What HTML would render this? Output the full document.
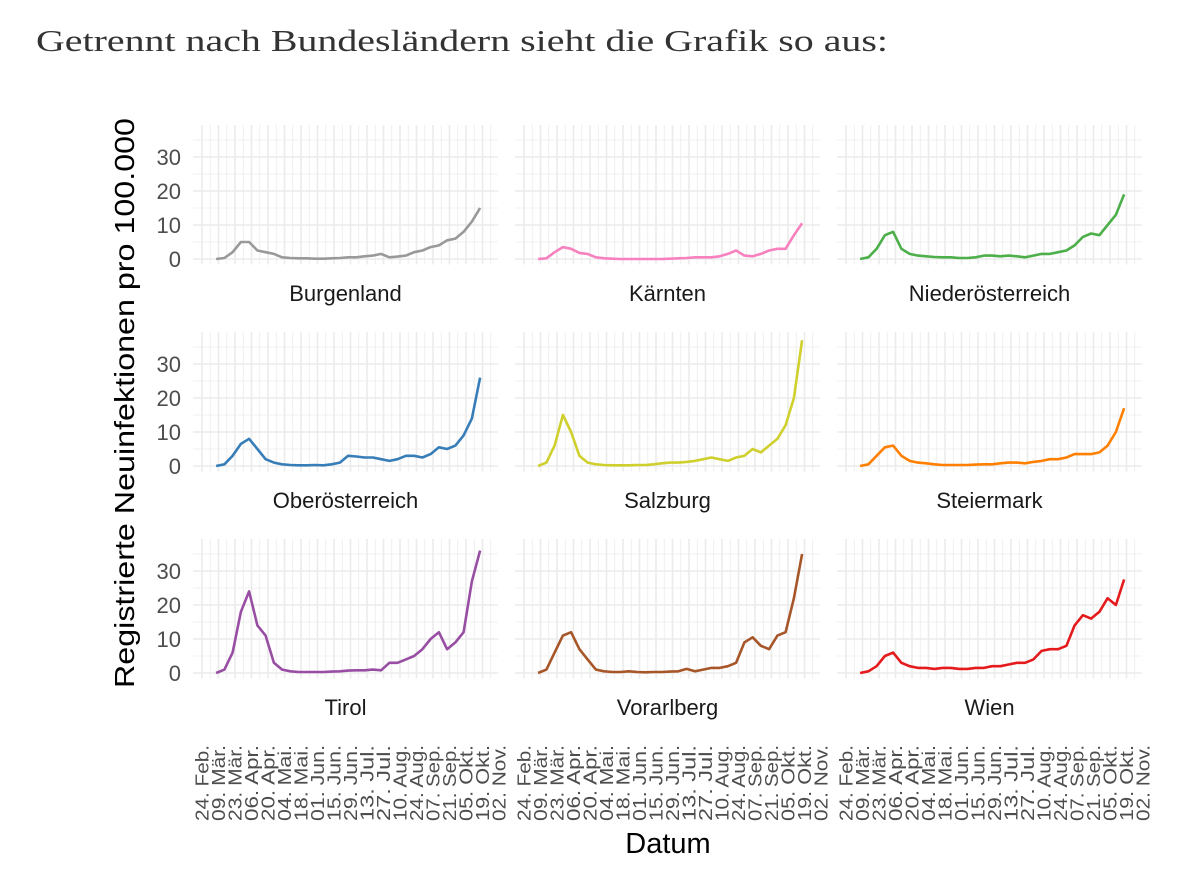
<!DOCTYPE html>
<html><head><meta charset="utf-8"><style>
html,body{margin:0;padding:0;background:#fff;}
svg{display:block;font-family:"Liberation Sans",sans-serif;}
</style></head><body>
<svg id="chart" width="1200" height="877" viewBox="0 0 1200 877" xmlns="http://www.w3.org/2000/svg">
<text x="36" y="51" font-family="Liberation Serif, serif" font-size="31" fill="#333" textLength="852" lengthAdjust="spacingAndGlyphs">Getrennt nach Bundesländern sieht die Grafik so aus:</text>
<text transform="translate(134,403) rotate(-90)" text-anchor="middle" font-size="28" fill="#000" textLength="570" lengthAdjust="spacingAndGlyphs">Registrierte Neuinfektionen pro 100.000</text>
<text x="668" y="853" text-anchor="middle" font-size="29" fill="#000">Datum</text>
<g id="panels"></g>
</svg>
<script>
const states = ["Burgenland","Kärnten","Niederösterreich","Oberösterreich","Salzburg","Steiermark","Tirol","Vorarlberg","Wien"];
const colors = ["#999999","#f781bf","#4daf4a","#377eb8","#cfcf2e","#ff7f00","#984ea3","#a65628","#e41a1c"];
const dayStart = 12; const dayStep = 7;
const burgenland = [0,0.3,2,5,5,2.5,2,1.5,0.5,0.3,0.2,0.2,0.1,0.1,0.2,0.3,0.5,0.5,0.8,1,1.5,0.5,0.7,1,2,2.5,3.5,4,5.5,6,8,11,15];
const kaernten = [0,0.2,2,3.5,3,1.8,1.5,0.5,0.2,0.1,0,0,0,0,0,0,0.1,0.2,0.3,0.5,0.5,0.5,0.8,1.5,2.5,1,0.8,1.5,2.5,3,3,7,10.5];
const niederoesterreich = [0,0.5,3,7,8,3,1.5,1,0.8,0.6,0.5,0.5,0.3,0.3,0.5,1,1,0.8,1,0.8,0.5,1,1.5,1.5,2,2.5,4,6.5,7.5,7,10,13,19];
const oberoesterreich = [0,0.5,3,6.5,8,5,2,1,0.5,0.3,0.2,0.2,0.3,0.2,0.5,1,3,2.8,2.5,2.5,2,1.5,2,3,3,2.5,3.5,5.5,5,6,9,14,26];
const salzburg = [0,1,6,15,10,3,1,0.5,0.3,0.2,0.2,0.2,0.3,0.3,0.5,0.8,1,1,1.2,1.5,2,2.5,2,1.5,2.5,3,5,4,6,8,12,20,37];
const steiermark = [0,0.5,3,5.5,6,3,1.5,1,0.8,0.5,0.3,0.3,0.3,0.3,0.4,0.5,0.5,0.8,1,1,0.8,1.2,1.5,2,2,2.5,3.5,3.5,3.5,4,6,10,17];
const tirol = [0,1,6,18,24,14,11,3,1,0.5,0.3,0.3,0.3,0.3,0.4,0.5,0.7,0.8,0.8,1,0.8,3,3,4,5,7,10,12,7,9,12,27,36];
const vorarlberg = [0,1,6,11,12,7,4,1,0.5,0.3,0.3,0.5,0.3,0.2,0.3,0.3,0.4,0.5,1.2,0.5,1,1.5,1.5,2,3,9,10.5,8,7,11,12,22,35];
const wien = [0,0.5,2,5,6,3,2,1.5,1.5,1.2,1.5,1.5,1.2,1.2,1.5,1.5,2,2,2.5,3,3,4,6.5,7,7,8,14,17,16,18,22,20,27.5];
const yTicks = [0,10,20,30];
const xTickLabels = ["24. Feb.","09. Mär.","23. Mär.","06. Apr.","20. Apr.","04. Mai.","18. Mai.","01. Jun.","15. Jun.","29. Jun.","13. Jul.","27. Jul.","10. Aug.","24. Aug.","07. Sep.","21. Sep.","05. Okt.","19. Okt.","02. Nov."];
const series = [burgenland,kaernten,niederoesterreich,oberoesterreich,salzburg,steiermark,tirol,vorarlberg,wien];

const NS="http://www.w3.org/2000/svg";
const root=document.getElementById('panels');
function mk(tag,attrs,parent){const e=document.createElementNS(NS,tag);for(const k in attrs)e.setAttribute(k,attrs[k]);parent.appendChild(e);return e;}
const colX=[0,322,644], rowY=[0,207,414];
const gx0=193, gx1=498, zeroY=259, pxPerUnit=3.4, topVal=39.4;
function xScale(day){return 202+day*16.5/14;}
function yScale(v){return zeroY-v*pxPerUnit;}
states.forEach((st,i)=>{
  const dx=colX[i%3], dy=rowY[Math.floor(i/3)];
  const g=mk('g',{transform:`translate(${dx},${dy})`},root);
  
  
  const top=yScale(topVal), bot=yScale(-1.6);
  for(let v=5;v<topVal;v+=10){mk('line',{x1:gx0,x2:gx1,y1:yScale(v),y2:yScale(v),stroke:'#ebebeb','stroke-width':0.8},g);}
  yTicks.forEach(v=>{mk('line',{x1:gx0,x2:gx1,y1:yScale(v),y2:yScale(v),stroke:'#ebebeb','stroke-width':1.6},g);});
  xTickLabels.forEach((lab,k)=>{
    const x=xScale(k*14);
    if(k<xTickLabels.length-1){const xm=xScale(k*14+7);mk('line',{x1:xm,x2:xm,y1:top,y2:bot,stroke:'#ebebeb','stroke-width':0.8},g);}
    if(x<=gx1)mk('line',{x1:x,x2:x,y1:top,y2:bot,stroke:'#ebebeb','stroke-width':1.6},g);
  });
  const pts=series[i].map((v,k)=>xScale(dayStart+k*dayStep).toFixed(1)+','+yScale(v).toFixed(1)).join(' ');
  const pl=mk('polyline',{points:pts,fill:'none',stroke:colors[i],'stroke-width':2.6,'stroke-linejoin':'round'},g);
  
  
  const s=mk('text',{x:(gx0+gx1)/2,y:301,'text-anchor':'middle','font-size':22,fill:'#1a1a1a'},g);
  s.textContent=st;
  
  
  if(i%3===0){
    yTicks.forEach(v=>{const t=mk('text',{x:181,y:yScale(v)+8,'text-anchor':'end','font-size':22,fill:'#4d4d4d'},g);t.textContent=v;
      
      });
  }
  if(i>=6){
    xTickLabels.forEach((lab,k)=>{const x=xScale(k*14);
      const t=mk('text',{transform:`translate(${x+6.5},${821-dy}) rotate(-90)`,'text-anchor':'start','font-size':18,fill:'#4d4d4d',textLength:76,lengthAdjust:'spacingAndGlyphs'},g);t.textContent=lab;
      
      });
  }
});
</script>
</body></html>
